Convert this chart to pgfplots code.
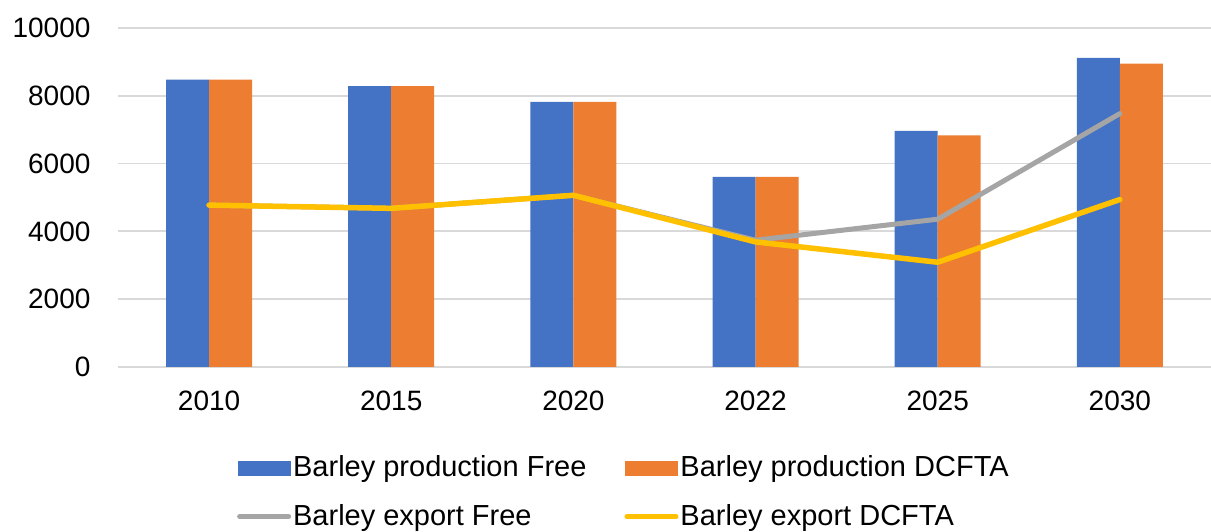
\documentclass[border=0pt]{standalone}
\usepackage{pgfplots}
\pgfplotsset{compat=1.18}
\usepackage{fontspec}
\setmainfont{Liberation Sans}
\definecolor{cblue}{HTML}{4472C4}
\definecolor{corange}{HTML}{ED7D31}
\definecolor{cgray}{HTML}{A5A5A5}
\definecolor{cyellow}{HTML}{FFC000}
\definecolor{gridgray}{HTML}{D9D9D9}
\begin{document}
\fontsize{28}{34}\selectfont
\begin{tikzpicture}
\path[use as bounding box] (0,0) rectangle (1211pt,532pt);
\begin{axis}[
  at={(118pt,165pt)}, anchor=south west,
  scale only axis, width=1093pt, height=339pt,
  xmin=-0.5, xmax=5.5, ymin=0, ymax=10000,
  ybar=0pt, bar width=43pt,
  xtick={0,...,5}, xticklabels={2010,2015,2020,2022,2025,2030},
  ytick={0,2000,...,10000},
  scaled y ticks=false,
  /pgf/number format/1000 sep={},
  /pgf/number format/assume math mode=true,
  major tick length=0pt,
  axis line style={draw=none},
  ymajorgrids, grid style={draw=gridgray, line width=1.8pt},
  tick label style={font=\fontsize{28}{34}\selectfont, text=black},
  yticklabel style={xshift=-18pt},
  xticklabel style={yshift=-14pt},
  clip=false,
  legend columns=2,
  legend cell align=left,
  legend style={at={(0.109,-0.256)}, anchor=north west, draw=none, fill=none,
    inner sep=0pt, outer sep=0pt, row sep=19pt,
    font=\fontsize{29}{35}\selectfont,
    /tikz/every even column/.append style={column sep=36pt},
    /tikz/every odd column/.append style={column sep=0pt}},
]
\addplot[fill=cblue, draw=none,
  legend image code/.code={\fill[cblue] (0pt,-7.5pt) rectangle (53pt,7.5pt);}]
  coordinates {(0,8480) (1,8285) (2,7820) (3,5610) (4,6965) (5,9115)};
\addlegendentry{Barley production Free}
\addplot[fill=corange, draw=none,
  legend image code/.code={\fill[corange] (0pt,-7.5pt) rectangle (53pt,7.5pt);}]
  coordinates {(0,8480) (1,8285) (2,7820) (3,5610) (4,6830) (5,8950)};
\addlegendentry{Barley production DCFTA}
\addplot[sharp plot, draw=cgray, line width=5pt, line cap=round, line join=round,
  legend image code/.code={\draw[cgray, line width=5pt, line cap=round] (2pt,0pt) -- (51pt,0pt);}]
  coordinates {(0,4775) (1,4680) (2,5065) (3,3740) (4,4360) (5,7475)};
\addlegendentry{Barley export Free}
\addplot[sharp plot, draw=cyellow, line width=5.5pt, line cap=round, line join=round,
  legend image code/.code={\draw[cyellow, line width=5pt, line cap=round] (2pt,0pt) -- (51pt,0pt);}]
  coordinates {(0,4775) (1,4680) (2,5065) (3,3690) (4,3090) (5,4940)};
\addlegendentry{Barley export DCFTA}
\end{axis}
\end{tikzpicture}
\end{document}
